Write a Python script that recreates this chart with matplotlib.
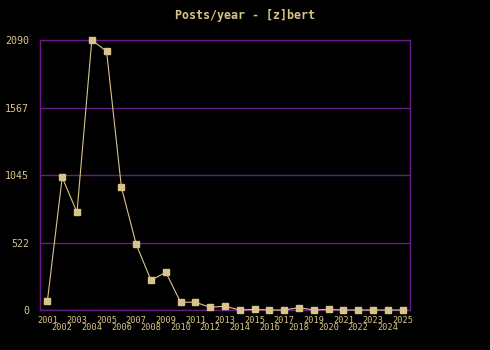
import matplotlib
matplotlib.use('Agg')
import matplotlib.pyplot as plt
import numpy as np

years = list(range(2001, 2026))
posts = [70, 1027, 756, 2090, 2002, 950, 508, 230, 292, 60,
         60, 21, 29, 0, 5, 0, 0, 18, 0, 5,
         0, 0, 0, 0, 0]
yticks = [0, 522, 1045, 1567, 2090]
title = 'Posts/year - [z]bert'

tan = '#d8c48a'
purple = '#6a1a86'

fig = plt.figure(figsize=(4.9, 3.5), dpi=100, facecolor='black')
ax = fig.add_axes([40 / 490, 40 / 350, 370 / 490, 270 / 350], facecolor='black')

ax.plot(years, posts, color=tan, linewidth=0.8, marker='s', markersize=4.3,
        markerfacecolor=tan, markeredgecolor=tan, zorder=3, clip_on=False)

ax.set_xlim(2000.5, 2025.5)
ax.set_ylim(0, 2090)

ax.set_yticks(yticks)
ax.set_yticklabels([str(v) for v in yticks])
for v in yticks:
    ax.axhline(v, color=purple, linewidth=1.0, zorder=1)

# odd years on the first row, even years on the second row
ax.set_xticks([y for y in years if y % 2 == 1])
ax.set_xticklabels([str(y) for y in years if y % 2 == 1])
ax.set_xticks([y for y in years if y % 2 == 0], minor=True)
ax.set_xticklabels([str(y) for y in years if y % 2 == 0], minor=True)

ax.tick_params(axis='x', which='major', length=0, pad=4.0, labelcolor=tan,
               labelsize=6.2)
ax.tick_params(axis='x', which='minor', length=0, pad=9.6, labelcolor=tan,
               labelsize=6.2)
ax.tick_params(axis='y', length=0, pad=8, labelcolor=tan, labelsize=7.2)
for lbl in ax.get_xticklabels(which='both'):
    lbl.set_family('DejaVu Sans Mono')
for lbl in ax.get_yticklabels():
    lbl.set_family('DejaVu Sans Mono')

for s in ax.spines.values():
    s.set_color(purple)
    s.set_linewidth(1.0)

fig.text(245 / 490, 1 - 16 / 350, title, color=tan, ha='center', va='center',
         family='DejaVu Sans Mono', fontweight='bold', fontsize=8.4)

fig.savefig('out.png', dpi=100, facecolor='black')
